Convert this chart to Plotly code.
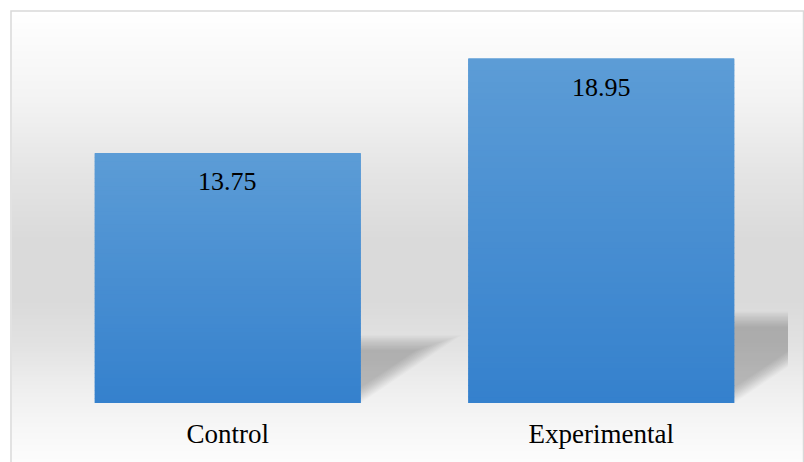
import plotly.graph_objects as go

# ---- data ----
categories = ["Control", "Experimental"]
values = [13.75, 18.95]
value_labels = ["13.75", "18.95"]

# ---- geometry helpers (pixels -> paper) ----
W, H = 804, 462
PL, PR, PT, PB = 41, 788, 40, 403   # plot-area pixel box
def px_x(p):
    return (p - PL) / (PR - PL)
def px_y(p):
    return (PB - p) / (PB - PT)

def lerp(a, b, t):
    return a + (b - a) * t

shapes = []

# background gradient (grey band in the middle, white top/bottom)
stops = [(11, 255), (100, 243), (170, 229), (240, 218), (300, 218),
         (345, 226), (390, 239), (435, 248), (462, 252)]
def bg_level(py):
    for (y0, c0), (y1, c1) in zip(stops[:-1], stops[1:]):
        if y0 <= py <= y1:
            return lerp(c0, c1, (py - y0) / (y1 - y0))
    return stops[-1][1]

step = 2
py = 11
while py < H:
    c = int(round(bg_level(py + step / 2)))
    shapes.append(dict(type="rect", xref="paper", yref="paper",
                       x0=px_x(12), x1=px_x(804), y0=px_y(py), y1=px_y(py + step + 0.6),
                       fillcolor=f"rgb({c},{c},{c})", line=dict(width=0), layer="below"))
    py += step

# chart border
shapes.append(dict(type="rect", xref="paper", yref="paper",
                   x0=px_x(11), x1=px_x(803.5), y0=px_y(470), y1=px_y(11),
                   line=dict(color="#d9d9d9", width=1.5), fillcolor="rgba(0,0,0,0)", layer="below"))

# perspective shadows behind the bars (derived from the bar values)
bar_w = 0.712
shadow_ratio = 0.25          # shadow height relative to bar
shear = 0.072                # x units per y unit of shadow height
n_soft = 12
for i, v in enumerate(values):
    h = v * shadow_ratio + 0.3
    for k in range(n_soft):
        top = h - k * 0.075
        xl = i - bar_w / 2
        xr = i + bar_w / 2 - k * 0.0055
        path = (f"M {xl} 0 L {xr} 0 L {xr + shear * top} {top} "
                f"L {xl + shear * top} {top} Z")
        shapes.append(dict(type="path", xref="x", yref="y", path=path,
                           fillcolor="rgba(0,0,0,0.018)", line=dict(width=0), layer="below"))

# vertical gradient on bars (strips derived from the bar values)
top_c = (92, 156, 214)
bot_c = (53, 129, 205)
n_strip = 60
for i, v in enumerate(values):
    for k in range(n_strip):
        t = k / (n_strip - 1)
        col = tuple(int(round(lerp(bot_c[j], top_c[j], t))) for j in range(3))
        shapes.append(dict(type="rect", xref="x", yref="y",
                           x0=i - bar_w / 2, x1=i + bar_w / 2,
                           y0=v * k / n_strip, y1=v * (k + 1) / n_strip + v * 0.002,
                           fillcolor=f"rgb{col}", line=dict(width=0), layer="above"))

fig = go.Figure()
fig.add_trace(go.Bar(x=[0, 1], y=values, width=bar_w,
                     marker=dict(color="#4a8fd2", line=dict(width=0)),
                     hoverinfo="skip"))

annotations = []
for i, (v, lab) in enumerate(zip(values, value_labels)):
    annotations.append(dict(x=i, y=v, xref="x", yref="y", text=lab, showarrow=False,
                            yanchor="middle", yshift=-28,
                            font=dict(family="Liberation Serif", size=26, color="black")))

fig.update_layout(
    width=W, height=H,
    margin=dict(l=PL, r=W - PR, t=PT, b=H - PB),
    paper_bgcolor="white", plot_bgcolor="rgba(0,0,0,0)",
    showlegend=False,
    shapes=shapes, annotations=annotations,
    xaxis=dict(range=[-0.5, 1.5], tickvals=[0, 1], ticktext=categories,
               showgrid=False, zeroline=False, showline=False, ticks="",
               tickfont=dict(family="Liberation Serif", size=27, color="black"),
               ticklabelstandoff=12, fixedrange=True),
    yaxis=dict(range=[0, 20], visible=False, showgrid=False, zeroline=False, fixedrange=True),
)

fig.write_html("out.html", config={"displayModeBar": False},
               post_script="document.body.style.margin='0';document.body.style.overflow='hidden';")
